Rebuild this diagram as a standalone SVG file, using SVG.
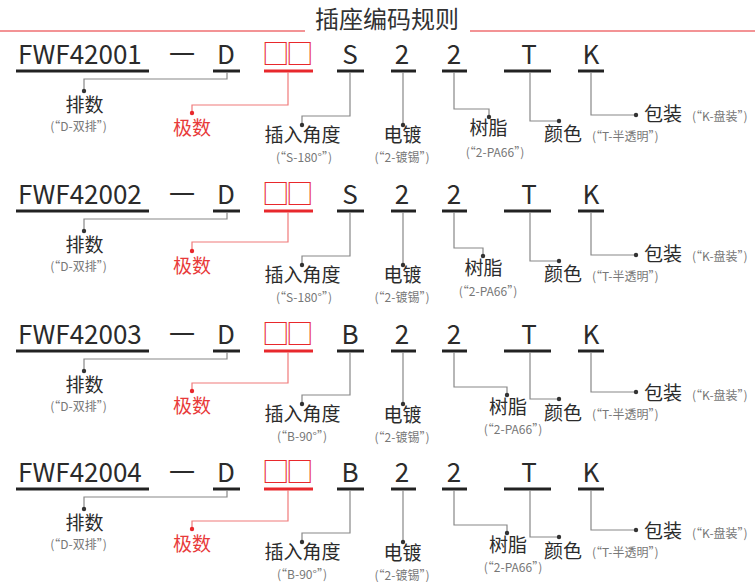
<svg xmlns="http://www.w3.org/2000/svg" width="755" height="582" viewBox="0 0 755 582">
<style>
text{font-family:"Noto Sans CJK SC","Noto Sans",sans-serif}
.code{font-size:26px;fill:#2b2b2b}
.box{font-size:27.5px;fill:#e8282c;letter-spacing:-3.5px}
.ul{stroke:#222;stroke-width:3}
.ulr{stroke:#e8282c;stroke-width:3}
.lbl{font-size:19px;fill:#2b2b2b}
.lblr{font-size:19px;fill:#e83a3a}
.cap{font-size:12px;fill:#777}
.cn{fill:none;stroke:#888;stroke-width:1.2}
.cnr{fill:none;stroke:#f07a7a;stroke-width:1.2}
.dot{fill:#333}
.dotr{fill:#e8282c}
.m{text-anchor:middle}
</style>
<g id="title">
<line x1="0" y1="31" x2="305" y2="31" stroke="#e8282c" stroke-width="1.2"/>
<line x1="470" y1="31" x2="755" y2="31" stroke="#e8282c" stroke-width="1.2"/>
<text x="387" y="28" class="m" style="font-size:24px;fill:#333">插座编码规则</text>
</g>

<!-- Row 1 -->
<g id="row1">
<g id="r1-code"><text x="18" y="64" class="code">FWF42001</text><line class="ul" x1="16" y1="71" x2="149" y2="71"/></g>
<g id="r1-dash"><text x="182" y="64" class="code m">一</text></g>
<g id="r1-d"><text x="226" y="64" class="code m">D</text><line class="ul" x1="213" y1="71" x2="240" y2="71"/></g>
<g id="r1-box"><text x="262" y="64" class="box">□□</text><line class="ulr" x1="264" y1="71" x2="313" y2="71"/></g>
<g id="r1-s"><text x="350" y="64" class="code m">S</text><line class="ul" x1="337" y1="71" x2="364" y2="71"/></g>
<g id="r1-2a"><text x="402" y="64" class="code m">2</text><line class="ul" x1="391" y1="71" x2="416" y2="71"/></g>
<g id="r1-2b"><text x="454" y="64" class="code m">2</text><line class="ul" x1="442" y1="71" x2="467" y2="71"/></g>
<g id="r1-t"><text x="529" y="64" class="code m">T</text><line class="ul" x1="504" y1="71" x2="551" y2="71"/></g>
<g id="r1-k"><text x="591" y="64" class="code m">K</text><line class="ul" x1="578" y1="71" x2="604" y2="71"/></g>
<g id="r1-connectors">
<path class="cn" d="M227,72V79H84V91"/><circle class="dot" cx="84" cy="91" r="2.2"/>
<path class="cnr" d="M288,72V105H192V113"/><circle class="dotr" cx="192" cy="113" r="2.2"/>
<path class="cn" d="M350,72V116H302V125"/><circle class="dot" cx="302" cy="125" r="2.2"/>
<path class="cn" d="M403,72V125"/><circle class="dot" cx="403" cy="125" r="2.2"/>
<path class="cn" d="M454,72V109H489V117"/><circle class="dot" cx="489" cy="117" r="2.2"/>
<path class="cn" d="M530,72V121H559"/><circle class="dot" cx="559" cy="121" r="2.2"/>
<path class="cn" d="M591,72V115H636"/><circle class="dot" cx="636" cy="115" r="2.2"/>
</g>
<g id="r1-l1"><text x="84.5" y="112" class="lbl m">排数</text><text x="78.5" y="131" class="cap m">(“D-双排”)</text></g>
<g id="r1-l2"><text x="192" y="135" class="lblr m">极数</text></g>
<g id="r1-l3"><text x="302.5" y="142" class="lbl m">插入角度</text><text x="304" y="162" class="cap m">(“S-180°”)</text></g>
<g id="r1-l4"><text x="402.5" y="142" class="lbl m">电镀</text><text x="402" y="162" class="cap m">(“2-镀锡”)</text></g>
<g id="r1-l5"><text x="488.5" y="135" class="lbl m">树脂</text><text x="495" y="157" class="cap m">(“2-PA66”)</text></g>
<g id="r1-l6"><text x="563" y="141" class="lbl m">颜色</text><text x="592" y="141" class="cap">(“T-半透明”)</text></g>
<g id="r1-l7"><text x="644" y="121" class="lbl">包装</text><text x="692" y="121" class="cap">(“K-盘装”)</text></g>
</g>

<!-- Row 2 -->
<g id="row2" transform="translate(0,140)">
<g id="r2-code"><text x="18" y="64" class="code">FWF42002</text><line class="ul" x1="16" y1="71" x2="149" y2="71"/></g>
<g id="r2-dash"><text x="182" y="64" class="code m">一</text></g>
<g id="r2-d"><text x="226" y="64" class="code m">D</text><line class="ul" x1="213" y1="71" x2="240" y2="71"/></g>
<g id="r2-box"><text x="262" y="64" class="box">□□</text><line class="ulr" x1="264" y1="71" x2="313" y2="71"/></g>
<g id="r2-s"><text x="350" y="64" class="code m">S</text><line class="ul" x1="337" y1="71" x2="364" y2="71"/></g>
<g id="r2-2a"><text x="402" y="64" class="code m">2</text><line class="ul" x1="391" y1="71" x2="416" y2="71"/></g>
<g id="r2-2b"><text x="454" y="64" class="code m">2</text><line class="ul" x1="442" y1="71" x2="467" y2="71"/></g>
<g id="r2-t"><text x="529" y="64" class="code m">T</text><line class="ul" x1="504" y1="71" x2="551" y2="71"/></g>
<g id="r2-k"><text x="591" y="64" class="code m">K</text><line class="ul" x1="578" y1="71" x2="604" y2="71"/></g>
<g id="r2-connectors">
<path class="cn" d="M227,72V79H84V91"/><circle class="dot" cx="84" cy="91" r="2.2"/>
<path class="cnr" d="M288,72V102H192V111"/><circle class="dotr" cx="192" cy="111" r="2.2"/>
<path class="cn" d="M350,72V116H302V125"/><circle class="dot" cx="302" cy="125" r="2.2"/>
<path class="cn" d="M403,72V125"/><circle class="dot" cx="403" cy="125" r="2.2"/>
<path class="cn" d="M454,72V108H483V116"/><circle class="dot" cx="483" cy="116" r="2.2"/>
<path class="cn" d="M530,72V121H559"/><circle class="dot" cx="559" cy="121" r="2.2"/>
<path class="cn" d="M591,72V115H636"/><circle class="dot" cx="636" cy="115" r="2.2"/>
</g>
<g id="r2-l1"><text x="84.5" y="112" class="lbl m">排数</text><text x="78.5" y="131" class="cap m">(“D-双排”)</text></g>
<g id="r2-l2"><text x="192" y="133" class="lblr m">极数</text></g>
<g id="r2-l3"><text x="302.5" y="142" class="lbl m">插入角度</text><text x="304" y="162" class="cap m">(“S-180°”)</text></g>
<g id="r2-l4"><text x="402.5" y="142" class="lbl m">电镀</text><text x="402" y="162" class="cap m">(“2-镀锡”)</text></g>
<g id="r2-l5"><text x="483.5" y="135" class="lbl m">树脂</text><text x="488" y="156" class="cap m">(“2-PA66”)</text></g>
<g id="r2-l6"><text x="563" y="141" class="lbl m">颜色</text><text x="592" y="141" class="cap">(“T-半透明”)</text></g>
<g id="r2-l7"><text x="644" y="121" class="lbl">包装</text><text x="692" y="121" class="cap">(“K-盘装”)</text></g>
</g>

<!-- Row 3 -->
<g id="row3" transform="translate(0,280)">
<g id="r3-code"><text x="18" y="64" class="code">FWF42003</text><line class="ul" x1="16" y1="71" x2="149" y2="71"/></g>
<g id="r3-dash"><text x="182" y="64" class="code m">一</text></g>
<g id="r3-d"><text x="226" y="64" class="code m">D</text><line class="ul" x1="213" y1="71" x2="240" y2="71"/></g>
<g id="r3-box"><text x="262" y="64" class="box">□□</text><line class="ulr" x1="264" y1="71" x2="313" y2="71"/></g>
<g id="r3-b"><text x="350" y="64" class="code m">B</text><line class="ul" x1="337" y1="71" x2="364" y2="71"/></g>
<g id="r3-2a"><text x="402" y="64" class="code m">2</text><line class="ul" x1="391" y1="71" x2="416" y2="71"/></g>
<g id="r3-2b"><text x="454" y="64" class="code m">2</text><line class="ul" x1="442" y1="71" x2="467" y2="71"/></g>
<g id="r3-t"><text x="529" y="64" class="code m">T</text><line class="ul" x1="504" y1="71" x2="551" y2="71"/></g>
<g id="r3-k"><text x="591" y="64" class="code m">K</text><line class="ul" x1="578" y1="71" x2="604" y2="71"/></g>
<g id="r3-connectors">
<path class="cn" d="M227,72V79H84V91"/><circle class="dot" cx="84" cy="91" r="2.2"/>
<path class="cnr" d="M288,72V103H192V111"/><circle class="dotr" cx="192" cy="111" r="2.2"/>
<path class="cn" d="M350,72V115H302V124"/><circle class="dot" cx="302" cy="124" r="2.2"/>
<path class="cn" d="M403,72V124"/><circle class="dot" cx="403" cy="124" r="2.2"/>
<path class="cn" d="M454,72V107H507V115"/><circle class="dot" cx="507" cy="115" r="2.2"/>
<path class="cn" d="M530,72V119H559"/><circle class="dot" cx="559" cy="119" r="2.2"/>
<path class="cn" d="M591,72V112H636"/><circle class="dot" cx="636" cy="112" r="2.2"/>
</g>
<g id="r3-l1"><text x="84.5" y="112" class="lbl m">排数</text><text x="78.5" y="131" class="cap m">(“D-双排”)</text></g>
<g id="r3-l2"><text x="192" y="133" class="lblr m">极数</text></g>
<g id="r3-l3"><text x="302.5" y="141" class="lbl m">插入角度</text><text x="302" y="161" class="cap m">(“B-90°”)</text></g>
<g id="r3-l4"><text x="402.5" y="142" class="lbl m">电镀</text><text x="402" y="162" class="cap m">(“2-镀锡”)</text></g>
<g id="r3-l5"><text x="508" y="134" class="lbl m">树脂</text><text x="513" y="154" class="cap m">(“2-PA66”)</text></g>
<g id="r3-l6"><text x="563" y="140" class="lbl m">颜色</text><text x="592" y="139" class="cap">(“T-半透明”)</text></g>
<g id="r3-l7"><text x="644" y="120" class="lbl">包装</text><text x="692" y="120" class="cap">(“K-盘装”)</text></g>
</g>

<!-- Row 4 -->
<g id="row4" transform="translate(0,418)">
<g id="r4-code"><text x="18" y="64" class="code">FWF42004</text><line class="ul" x1="16" y1="71" x2="149" y2="71"/></g>
<g id="r4-dash"><text x="182" y="64" class="code m">一</text></g>
<g id="r4-d"><text x="226" y="64" class="code m">D</text><line class="ul" x1="213" y1="71" x2="240" y2="71"/></g>
<g id="r4-box"><text x="262" y="64" class="box">□□</text><line class="ulr" x1="264" y1="71" x2="313" y2="71"/></g>
<g id="r4-b"><text x="350" y="64" class="code m">B</text><line class="ul" x1="337" y1="71" x2="364" y2="71"/></g>
<g id="r4-2a"><text x="402" y="64" class="code m">2</text><line class="ul" x1="391" y1="71" x2="416" y2="71"/></g>
<g id="r4-2b"><text x="454" y="64" class="code m">2</text><line class="ul" x1="442" y1="71" x2="467" y2="71"/></g>
<g id="r4-t"><text x="529" y="64" class="code m">T</text><line class="ul" x1="504" y1="71" x2="551" y2="71"/></g>
<g id="r4-k"><text x="591" y="64" class="code m">K</text><line class="ul" x1="578" y1="71" x2="604" y2="71"/></g>
<g id="r4-connectors">
<path class="cn" d="M227,72V79H84V91"/><circle class="dot" cx="84" cy="91" r="2.2"/>
<path class="cnr" d="M288,72V103H192V111"/><circle class="dotr" cx="192" cy="111" r="2.2"/>
<path class="cn" d="M350,72V115H302V124"/><circle class="dot" cx="302" cy="124" r="2.2"/>
<path class="cn" d="M403,72V124"/><circle class="dot" cx="403" cy="124" r="2.2"/>
<path class="cn" d="M454,72V107H507V115"/><circle class="dot" cx="507" cy="115" r="2.2"/>
<path class="cn" d="M530,72V119H559"/><circle class="dot" cx="559" cy="119" r="2.2"/>
<path class="cn" d="M591,72V112H636"/><circle class="dot" cx="636" cy="112" r="2.2"/>
</g>
<g id="r4-l1"><text x="84.5" y="112" class="lbl m">排数</text><text x="78.5" y="131" class="cap m">(“D-双排”)</text></g>
<g id="r4-l2"><text x="192" y="133" class="lblr m">极数</text></g>
<g id="r4-l3"><text x="302.5" y="141" class="lbl m">插入角度</text><text x="302" y="161" class="cap m">(“B-90°”)</text></g>
<g id="r4-l4"><text x="402.5" y="142" class="lbl m">电镀</text><text x="402" y="162" class="cap m">(“2-镀锡”)</text></g>
<g id="r4-l5"><text x="508" y="134" class="lbl m">树脂</text><text x="513" y="154" class="cap m">(“2-PA66”)</text></g>
<g id="r4-l6"><text x="563" y="140" class="lbl m">颜色</text><text x="592" y="139" class="cap">(“T-半透明”)</text></g>
<g id="r4-l7"><text x="644" y="120" class="lbl">包装</text><text x="692" y="120" class="cap">(“K-盘装”)</text></g>
</g>
</svg>
